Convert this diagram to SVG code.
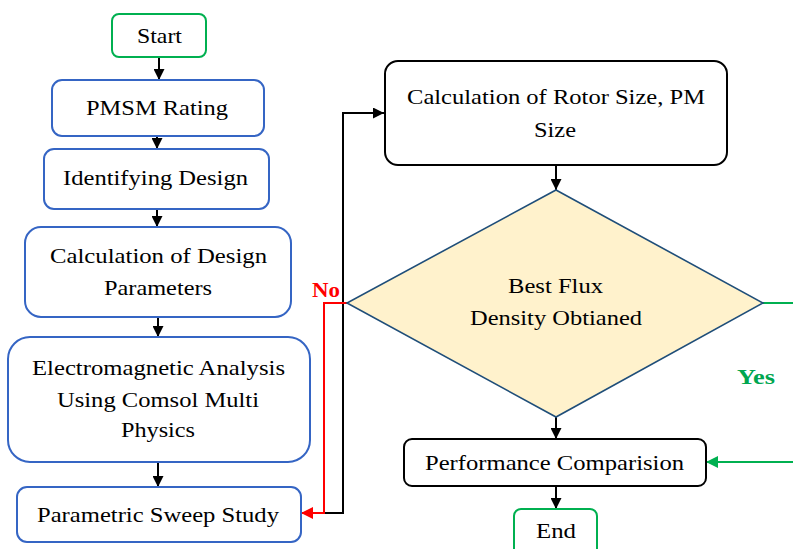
<svg xmlns="http://www.w3.org/2000/svg" width="793" height="549" viewBox="0 0 793 549">
  <style>
    text { font-family: "Liberation Serif", "DejaVu Serif", "Noto Serif", serif; font-size: 22px; text-anchor: middle; }
    .t { fill: #000; }
    .blue { fill: #fff; stroke: #3565c4; stroke-width: 2; }
    .green { fill: #fff; stroke: #00b050; stroke-width: 2; }
    .black { fill: #fff; stroke: #000; stroke-width: 2; }
    .dec { fill: #fff2cc; stroke: #1f4e79; stroke-width: 1.6; }
    .ln { fill: none; stroke: #000; stroke-width: 2; }
    .no { fill: none; stroke: #ff0000; stroke-width: 2; }
    .yes { fill: none; stroke: #00b050; stroke-width: 2; }
    .lblno { font-weight: bold; fill: #ff0000; }
    .lblyes { font-weight: bold; fill: #00a650; }
  </style>
  <defs>
    <marker id="ah" viewBox="0 0 10 10" refX="10" refY="5" markerWidth="11" markerHeight="11" markerUnits="userSpaceOnUse" orient="auto">
      <path d="M0,0 L10,5 L0,10 Z" fill="#000"/>
    </marker>
    <marker id="ahr" viewBox="0 0 10 10" refX="10" refY="5" markerWidth="12" markerHeight="12" markerUnits="userSpaceOnUse" orient="auto">
      <path d="M0,0 L10,5 L0,10 Z" fill="#ff0000"/>
    </marker>
    <marker id="ahg" viewBox="0 0 10 10" refX="10" refY="5" markerWidth="12" markerHeight="12" markerUnits="userSpaceOnUse" orient="auto">
      <path d="M0,0 L10,5 L0,10 Z" fill="#00b050"/>
    </marker>
  </defs>

  <g id="connectors">
    <line class="ln" x1="159" y1="57" x2="159" y2="80" marker-end="url(#ah)"/>
    <line class="ln" x1="157" y1="136" x2="157" y2="149" marker-end="url(#ah)"/>
    <line class="ln" x1="157" y1="209" x2="157" y2="227" marker-end="url(#ah)"/>
    <line class="ln" x1="158" y1="317" x2="158" y2="337" marker-end="url(#ah)"/>
    <line class="ln" x1="158" y1="462" x2="158" y2="487" marker-end="url(#ah)"/>
    <!-- sweep result back up to rotor sizing -->
    <polyline class="ln" points="301,513 343,513 343,113 384,113" marker-end="url(#ah)"/>
    <line class="ln" x1="556" y1="165" x2="556" y2="190" marker-end="url(#ah)"/>
    <line class="ln" x1="556" y1="417" x2="556" y2="439" marker-end="url(#ah)"/>
    <line class="ln" x1="556" y1="486" x2="556" y2="509" marker-end="url(#ah)"/>
    <!-- No branch -->
    <polyline class="no" points="347,303 324,303 324,513 301,513" marker-end="url(#ahr)"/>
    <!-- Yes branch -->
    <line class="yes" x1="763" y1="303" x2="795" y2="303"/>
    <line class="yes" x1="795" y1="462" x2="706" y2="462" marker-end="url(#ahg)"/>
    <text class="lblno" x="326" y="297" textLength="28" lengthAdjust="spacingAndGlyphs">No</text>
    <text class="lblyes" x="756" y="384" textLength="38" lengthAdjust="spacingAndGlyphs">Yes</text>
  </g>

  <g id="start">
    <rect class="green" x="112" y="14" width="94" height="43" rx="7"/>
    <text class="t" x="159.5" y="43" textLength="45" lengthAdjust="spacingAndGlyphs">Start</text>
  </g>
  <g id="pmsm-rating">
    <rect class="blue" x="52" y="80" width="212" height="56" rx="10"/>
    <text class="t" x="157" y="115" textLength="142" lengthAdjust="spacingAndGlyphs">PMSM Rating</text>
  </g>
  <g id="identifying-design">
    <rect class="blue" x="44" y="149" width="225" height="60" rx="10"/>
    <text class="t" x="155.5" y="185" textLength="185" lengthAdjust="spacingAndGlyphs">Identifying Design</text>
  </g>
  <g id="design-parameters">
    <rect class="blue" x="25" y="227" width="266" height="90" rx="16"/>
    <text class="t" x="158.5" y="263" textLength="217" lengthAdjust="spacingAndGlyphs">Calculation of Design</text>
    <text class="t" x="158" y="295" textLength="108" lengthAdjust="spacingAndGlyphs">Parameters</text>
  </g>
  <g id="em-analysis">
    <rect class="blue" x="8" y="337" width="302" height="125" rx="22"/>
    <text class="t" x="158.5" y="375" textLength="253" lengthAdjust="spacingAndGlyphs">Electromagnetic Analysis</text>
    <text class="t" x="158" y="407" textLength="202" lengthAdjust="spacingAndGlyphs">Using Comsol Multi</text>
    <text class="t" x="158" y="437" textLength="74" lengthAdjust="spacingAndGlyphs">Physics</text>
  </g>
  <g id="sweep-study">
    <rect class="blue" x="17" y="487" width="284" height="55" rx="10"/>
    <text class="t" x="158" y="522" textLength="242" lengthAdjust="spacingAndGlyphs">Parametric Sweep Study</text>
  </g>
  <g id="rotor-size">
    <rect class="black" x="385" y="61" width="342" height="104" rx="13"/>
    <text class="t" x="556" y="104" textLength="298" lengthAdjust="spacingAndGlyphs">Calculation of Rotor Size, PM</text>
    <text class="t" x="555" y="137" textLength="42" lengthAdjust="spacingAndGlyphs">Size</text>
  </g>
  <g id="flux-decision">
    <polygon class="dec" points="556,190 763,303 556,417 347,303"/>
    <text class="t" x="555.5" y="293" textLength="95" lengthAdjust="spacingAndGlyphs">Best Flux</text>
    <text class="t" x="556" y="325" textLength="172" lengthAdjust="spacingAndGlyphs">Density Obtianed</text>
  </g>
  <g id="performance">
    <rect class="black" x="404" y="439" width="302" height="47" rx="8"/>
    <text class="t" x="554.5" y="470" textLength="259" lengthAdjust="spacingAndGlyphs">Performance Comparision</text>
  </g>
  <g id="end">
    <rect class="green" x="514" y="509" width="83" height="50" rx="7"/>
    <text class="t" x="556" y="538" textLength="40" lengthAdjust="spacingAndGlyphs">End</text>
  </g>
</svg>
